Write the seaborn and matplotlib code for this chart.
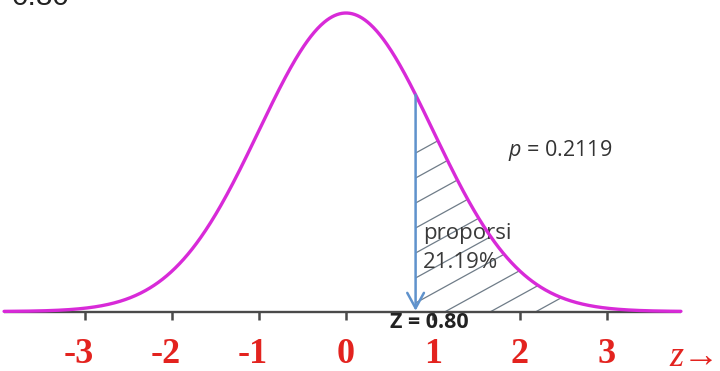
import numpy as np
import pandas as pd
import matplotlib
matplotlib.use("Agg")
import matplotlib.pyplot as plt
from matplotlib import transforms
import seaborn as sns

# --- values -------------------------------------------------------------
z_ticks = [-3, -2, -1, 0, 1, 2, 3]
tick_labels = ["-3", "-2", "-1", "0", "1", "2", "3"]
z_value = 0.80
p_value = 0.2119
share_text = "21.19%"
z_range = (-3.93, 3.85)
hatch_end = 2.65

# --- style --------------------------------------------------------------
sns.set_theme(style="white")
plt.rcParams["font.family"] = ["Open Sans", "DejaVu Sans"]
plt.rcParams["mathtext.fontset"] = "custom"
plt.rcParams["mathtext.it"] = "Open Sans:italic"
plt.rcParams["mathtext.rm"] = "Open Sans"


def normal_pdf(x):
    return np.exp(-np.asarray(x) ** 2 / 2) / np.sqrt(2 * np.pi)


z = np.linspace(z_range[0], z_range[1], 800)
df = pd.DataFrame({"z": z, "density": normal_pdf(z)})

fig = plt.figure(figsize=(7.2, 3.71), dpi=100)
ax = fig.add_axes([0, 0, 1, 1])
ax.set_xlim(-3.977, 4.299)
ax.set_ylim(-0.07952, 0.41633)
ax.axis("off")

# hatched upper tail (outline only, lines clipped to it)
tail = df[(df.z >= z_value) & (df.z <= hatch_end)]
region = ax.fill_between(tail.z, 0, tail.density, facecolor="none",
                         edgecolor="none")
clip = region.get_paths()[0]
slope, gap, y0 = 0.064, 0.0334, 0.2118
hx = np.array([z_value - 0.1, hatch_end + 0.1])
for k in range(0, 16):
    ln, = ax.plot(hx, y0 - k * gap + slope * (hx - z_value),
                  color="#6f7c88", lw=0.9, zorder=2)
    ln.set_clip_path(clip, ax.transData)

# baseline axis and tick marks
ax.plot(list(z_range), [0, 0], color="#4a4a4a", lw=1.7, zorder=3,
        solid_capstyle="butt")
ax.vlines(z_ticks, -0.012, 0, color="#4a4a4a", lw=1.8, zorder=3)

# density curve
sns.lineplot(data=df, x="z", y="density", ax=ax, color="#d82ad8",
             lw=2.4, zorder=4, legend=False)

# arrow at the cut-off
ax.annotate("", xy=(z_value, 0.001), xytext=(z_value, normal_pdf(z_value)),
            arrowprops=dict(arrowstyle="->,head_length=0.55,head_width=0.3",
                            color="#5f92cc", lw=1.8, shrinkA=0, shrinkB=0,
                            mutation_scale=20), zorder=5)

# tick labels: digit centred on each tick
lab_tr = transforms.offset_copy(ax.transData, fig=fig, x=9, y=0,
                                units="dots")
for t, lab in zip(z_ticks, tick_labels):
    ax.text(t, -0.0688, lab, transform=lab_tr, ha="right", va="baseline",
            fontsize=26, fontweight="bold", color="#e3231f",
            family=["Liberation Serif", "DejaVu Serif"])
ax.text(3.72, -0.0735, "z→", ha="left", va="baseline", fontsize=26,
        style="italic", color="#e3231f",
        family=["Liberation Serif", "DejaVu Serif"])

# annotations
ax.text(z_value - 0.29, -0.0221, f"Z = {z_value:.2f}", ha="left",
        va="baseline", fontsize=15.5, fontweight="bold", color="#222222")
ax.text(1.862, 0.2085, f"$p$ = {p_value:.4f}", ha="left", va="baseline",
        fontsize=15.5, color="#333333")
ax.text(0.885, 0.0969, "proporsi", ha="left", va="baseline", fontsize=16,
        color="#3a3a3a")
ax.text(0.885, 0.0582, share_text, ha="left", va="baseline", fontsize=16,
        color="#3a3a3a")
ax.text(-3.839, 0.4097, f"{z_value:.2f}", ha="left", va="baseline",
        fontsize=21.5, color="#222222",
        family=["Liberation Sans", "DejaVu Sans"])

fig.savefig("out.png", dpi=100)
